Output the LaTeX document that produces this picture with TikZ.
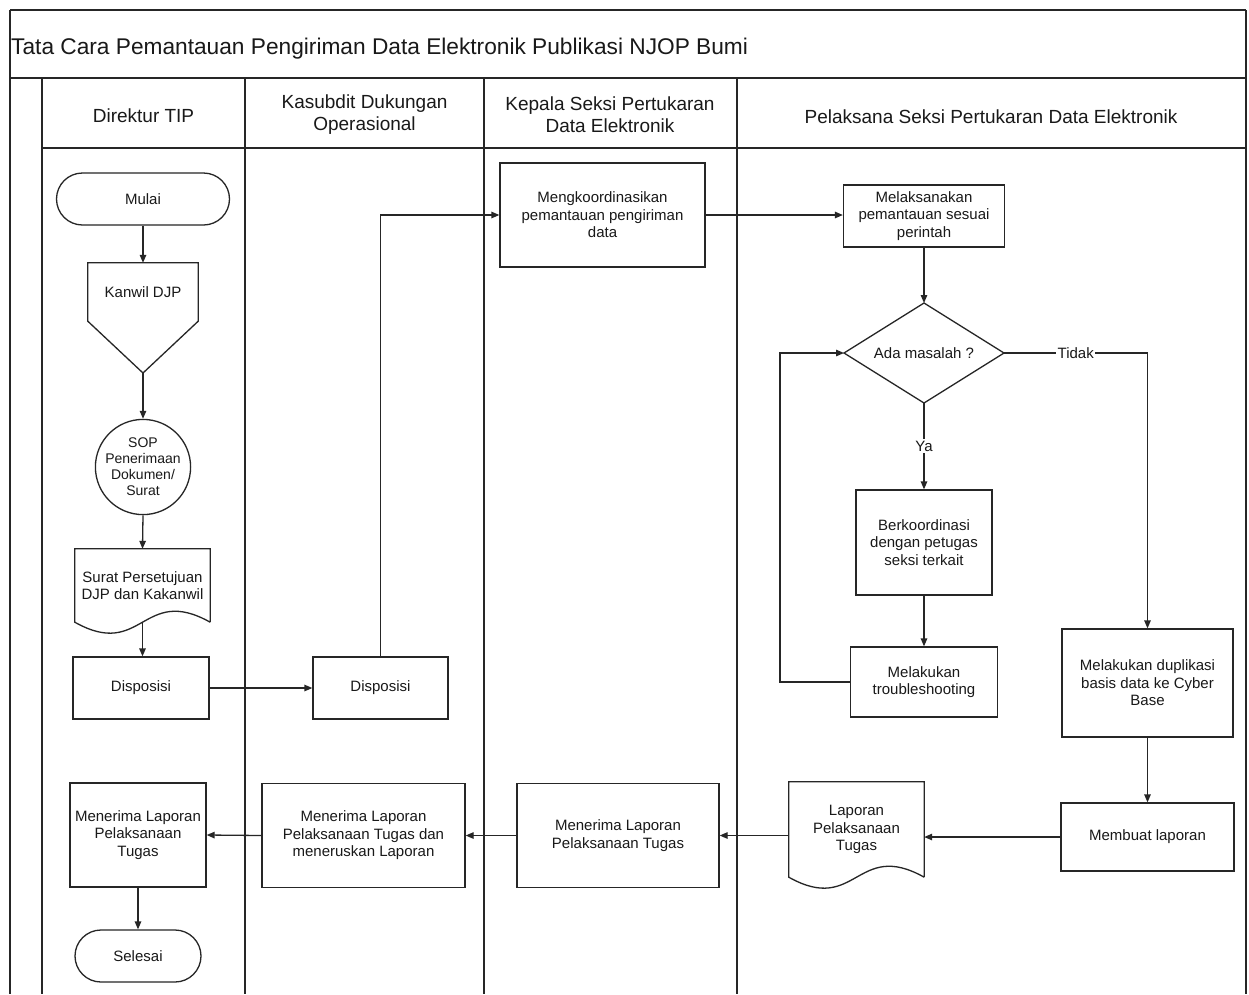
\documentclass[tikz,border=0pt]{standalone}
\usepackage{fontspec}
\setmainfont{Liberation Sans}
\usetikzlibrary{shapes.misc,shapes.geometric,arrows.meta,calc}
\newcommand\nodefont{\fontsize{15}{17.5}\selectfont}
\newcommand\hdrfont{\fontsize{19}{22}\selectfont}
\newcommand\titlefont{\fontsize{22.7}{26}\selectfont}
\newcommand\docpath[1]{\draw[ln] (#1.south east) -- (#1.north east) -- (#1.north west) -- (#1.south west) .. controls ($(#1.south)+(0,38)$) and ($(#1.south)+(0,-38)$) .. (#1.south east);}
\begin{document}
\begin{tikzpicture}[x=1pt,y=-1pt,
  ln/.style={draw=black!85, line width=1.3pt},
  arr/.style={ln, -{Triangle[length=8pt,width=6.5pt]}},
  box/.style={ln, rectangle, inner sep=2pt, align=center, font=\nodefont, text=black!90},
  plain/.style={inner sep=0pt, align=center, font=\nodefont, text=black!90},
  term/.style={ln, rounded rectangle, inner sep=0pt, align=center, font=\nodefont, text=black!90},
  hdr/.style={align=center, font=\hdrfont, inner sep=0pt, text=black!90},
  lbl/.style={fill=white, inner sep=1.5pt, font=\nodefont, text=black!90}
]
\useasboundingbox (0,0) rectangle (1249,994);
\fill[white] (0,0) rectangle (1249,994);

% frame and lanes
\draw[ln] (10,10) -- (1246,10);
\draw[ln] (10,10) -- (10,994);
\draw[ln] (1246,10) -- (1246,994);
\draw[ln] (10,78) -- (1246,78);
\draw[ln] (42,78) -- (42,994);
\draw[ln] (245,78) -- (245,994);
\draw[ln] (484,78) -- (484,994);
\draw[ln] (737,78) -- (737,994);
\draw[ln] (42,148) -- (1246,148);

\node[anchor=west, font=\titlefont, inner sep=0pt, text=black!90] (title) at (11,49) {Tata Cara Pemantauan Pengiriman Data Elektronik Publikasi NJOP Bumi};

\node[hdr] (h1) at (143.5,116) {Direktur TIP};
\node[hdr] (h2) at (364.5,115) {Kasubdit Dukungan\\Operasional};
\node[hdr] (h3) at (610,115) {Kepala Seksi Pertukaran\\Data Elektronik};
\node[hdr] (h4) at (991,117) {Pelaksana Seksi Pertukaran Data Elektronik};

% Direktur lane
\node[term, minimum width=173, minimum height=52] (mulai) at (143,199) {Mulai};
\node[plain, minimum width=110, minimum height=58] (kanwil) at (143,292) {Kanwil DJP};
\coordinate (kanwiltip) at (143,373);
\draw[ln] (kanwil.north west) -- (kanwil.north east) -- (kanwil.south east) -- (kanwiltip) -- (kanwil.south west) -- cycle;
\node[ln, circle, minimum size=95, inner sep=0pt, align=center, font=\fontsize{14}{16}\selectfont, text=black!90] (sop) at (143,467) {SOP\\Penerimaan\\Dokumen/\\Surat};
\node[plain, minimum width=135, minimum height=73] (surat) at (142.5,585.5) {Surat Persetujuan\\DJP dan Kakanwil};
\docpath{surat}
\node[box, minimum width=136, minimum height=62] (disp1) at (141,688) {Disposisi};
\node[box, minimum width=136, minimum height=104] (m1) at (138,835) {Menerima Laporan\\Pelaksanaan\\Tugas};
\node[term, minimum width=126, minimum height=52] (selesai) at (138,956) {Selesai};

% Kasubdit lane
\node[box, minimum width=135, minimum height=62] (disp2) at (380.5,688) {Disposisi};
\node[box, minimum width=203, minimum height=104] (m2) at (363.5,835.5) {Menerima Laporan\\Pelaksanaan Tugas dan\\meneruskan Laporan};

% Kepala Seksi lane
\node[box, minimum width=205, minimum height=104] (koord) at (602.5,215) {Mengkoordinasikan\\pemantauan pengiriman\\data};
\node[box, minimum width=202, minimum height=104] (m3) at (618,835.5) {Menerima Laporan\\Pelaksanaan Tugas};

% Pelaksana lane
\node[box, minimum width=161, minimum height=62] (melak) at (924,216) {Melaksanakan\\pemantauan sesuai\\perintah};
\node[plain] (dec) at (924,353) {Ada masalah ?};
\coordinate (dect) at (924,303);
\coordinate (decr) at (1004,353);
\coordinate (decb) at (924,403);
\coordinate (decl) at (844,353);
\draw[ln] (dect) -- (decr) -- (decb) -- (decl) -- cycle;
\node[box, minimum width=136, minimum height=105] (berk) at (924,542.5) {Berkoordinasi\\dengan petugas\\seksi terkait};
\node[box, minimum width=147, minimum height=70] (trouble) at (924,682) {Melakukan\\troubleshooting};
\node[box, minimum width=171, minimum height=108] (dup) at (1147.5,683) {Melakukan duplikasi\\basis data ke Cyber\\Base};
\node[box, minimum width=173, minimum height=68] (membuat) at (1147.5,837) {Membuat laporan};
\node[plain, minimum width=135, minimum height=95] (laporan) at (856.5,829.5) {Laporan\\Pelaksanaan\\Tugas};
\docpath{laporan}

% connectors
\draw[arr] (mulai.south) -- (kanwil.north);
\draw[arr] (kanwiltip) -- (sop.north);
\draw[arr] (sop.south) -- (surat.north);
\draw[arr] (surat.south) -- (surat.south |- disp1.north);
\draw[arr] (disp1.east) -- (disp2.west);
\draw[arr] (disp2.north) |- (koord.west);
\draw[arr] (koord.east) -- (koord.east -| melak.west);
\draw[arr] (melak.south) -- (dect);
\draw[arr] (decb) -- node[lbl, pos=0.5] {Ya} (berk.north);
\draw[arr] (decr) -| node[lbl, pos=0.25] {Tidak} (dup.north);
\draw[arr] (berk.south) -- (trouble.north);
\draw[arr] (trouble.west) -- ++(-70,0) |- (decl);
\draw[arr] (dup.south) -- (membuat.north);
\draw[arr] (membuat.west) -- (membuat.west -| laporan.east);
\draw[arr] (m3.east -| laporan.west) -- (m3.east);
\draw[arr] (m3.west) -- (m2.east);
\draw[arr] (m2.west) -- (m1.east);
\draw[arr] (m1.south) -- (selesai.north);
\end{tikzpicture}
\end{document}
